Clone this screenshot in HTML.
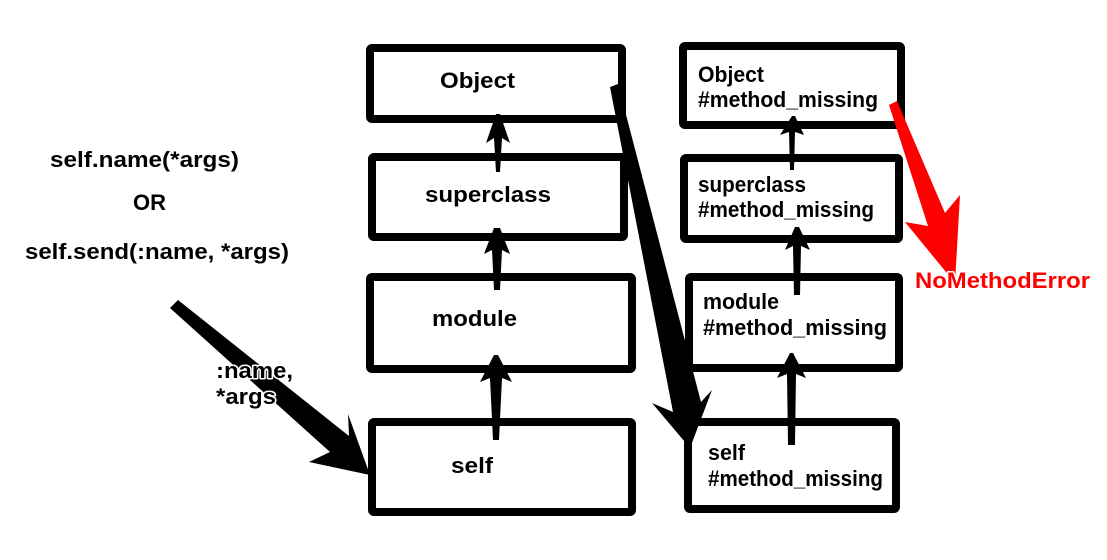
<!DOCTYPE html>
<html><head><meta charset="utf-8"><style>
html,body{margin:0;padding:0;background:#fff;}
svg{display:block;}
text{font-family:"Liberation Sans",Arial,sans-serif;font-weight:bold;font-size:22px;fill:#000;paint-order:stroke;stroke:#fff;stroke-width:3px;stroke-linejoin:round;}
</style></head><body>
<svg width="1107" height="560" viewBox="0 0 1107 560" xmlns="http://www.w3.org/2000/svg">
<g fill="none" stroke="#000" stroke-width="8" stroke-linejoin="round">
<rect x="370" y="48" width="252" height="71" rx="2"/>
<rect x="372" y="157" width="252" height="80" rx="2"/>
<rect x="370" y="277" width="262" height="92" rx="2"/>
<rect x="372" y="422" width="260" height="90" rx="2"/>
<rect x="683" y="46" width="218" height="79" rx="2"/>
<rect x="684" y="158" width="215" height="81" rx="2"/>
<rect x="689" y="277" width="210" height="91" rx="2"/>
<rect x="688" y="422" width="208" height="87" rx="2"/>
</g>
<polygon points="170,308 178,300 349,436 348,414 370,475 309,462 330,452" fill="#000"/>
<polygon points="610,87 618,84 701,402 712,390 690,448 652,403 673,412" fill="#000"/>
<polygon points="889,105 897,101 945,213 960,195 955,283 905,222 928,226" fill="#f00"/>
<g fill="#000">
<polygon points="496,114 486,143 494,138 496,172 500,172 502,138 510,143 500,114"/>
<polygon points="494,228 484,254 492,250 494,290 500,290 502,250 510,254 500,228"/>
<polygon points="494,355 480,382 490,378 493,440 499,440 502,378 512,382 498,355"/>
<polygon points="792,116 780,135 789,132 790,170 794,170 795,132 804,135 795,116"/>
<polygon points="795,227 785,250 793,246 794,295 800,295 801,246 810,250 799,227"/>
<polygon points="790,353 777,378 787,374 788,445 795,445 796,374 806,378 793,353"/>
</g>
<text x="440" y="88" textLength="75" lengthAdjust="spacingAndGlyphs">Object</text>
<text x="425" y="202" textLength="126" lengthAdjust="spacingAndGlyphs">superclass</text>
<text x="432" y="326" textLength="85" lengthAdjust="spacingAndGlyphs">module</text>
<text x="451" y="473" textLength="42" lengthAdjust="spacingAndGlyphs">self</text>
<g font-size="20">
<text x="698" y="82" textLength="66" lengthAdjust="spacingAndGlyphs">Object</text>
<text x="698" y="107" textLength="180" lengthAdjust="spacingAndGlyphs">#method_missing</text>
<text x="698" y="192" textLength="108" lengthAdjust="spacingAndGlyphs">superclass</text>
<text x="698" y="217" textLength="176" lengthAdjust="spacingAndGlyphs">#method_missing</text>
<text x="703" y="309" textLength="76" lengthAdjust="spacingAndGlyphs">module</text>
<text x="703" y="335" textLength="184" lengthAdjust="spacingAndGlyphs">#method_missing</text>
<text x="708" y="460" textLength="37" lengthAdjust="spacingAndGlyphs">self</text>
<text x="708" y="486" textLength="175" lengthAdjust="spacingAndGlyphs">#method_missing</text>
</g>
<text x="50" y="167" textLength="189" lengthAdjust="spacingAndGlyphs">self.name(*args)</text>
<text x="133" y="210">OR</text>
<text x="25" y="259" textLength="264" lengthAdjust="spacingAndGlyphs">self.send(:name, *args)</text>
<text x="216" y="378" font-size="21" textLength="77" lengthAdjust="spacingAndGlyphs">:name,</text>
<text x="216" y="404" font-size="21" textLength="60" lengthAdjust="spacingAndGlyphs">*args</text>
<text x="915" y="288" style="fill:#f00" font-size="21" textLength="175" lengthAdjust="spacingAndGlyphs">NoMethodError</text>
</svg>
</body></html>
